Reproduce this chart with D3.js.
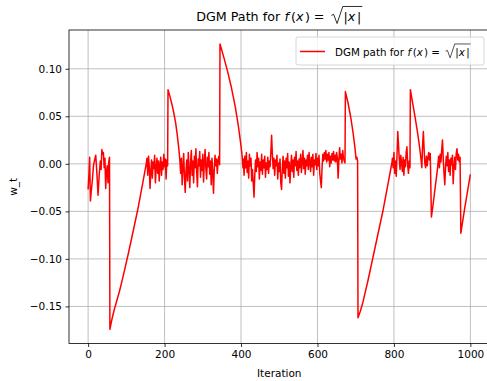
<!DOCTYPE html>
<html><head><meta charset="utf-8">
<script src="https://cdn.jsdelivr.net/npm/d3@7"></script>
<style>body{margin:0;background:#fff}svg{display:block}text{font-family:"DejaVu Sans",sans-serif;fill:#000}</style>
</head><body><svg id="c" width="487" height="381"></svg>
<script>
// ---- data: [iteration, w_t] pairs ----
const segStartNoise = [[0,-0.027],[2,-0.012],[4,0.007],[6,-0.039],[8,-0.030],[11,-0.018],[14,-0.002],[17,0.004],[20,0.009],[23,-0.010],[26,-0.033],[29,-0.012],[32,0.003],[34,-0.006],[36,0.015],[38,0.010],[40,0.012],[42,-0.004],[44,0.006],[46,-0.026],[48,-0.008],[50,-0.002],[52,-0.020],[54,0.002],[56,0.007]];
const segRecover1 = [[57,-0.174],[62,-0.164],[68,-0.154],[75,-0.144],[82,-0.134],[90,-0.121],[98,-0.107],[106,-0.093],[114,-0.078],[122,-0.063],[130,-0.048],[137,-0.033],[143,-0.020],[148,-0.009],[152,0.000]];
const segNoise2 = [[154,0.006],[156,-0.012],[158,0.008],[160,-0.003],[162,-0.026],[164,-0.008],[166,0.004],[168,-0.015],[170,0.002],[172,-0.005],[174,0.009],[176,-0.020],[178,-0.004],[180,0.006],[182,-0.010],[184,0.003],[186,-0.018],[188,-0.001],[190,0.007],[192,-0.012],[194,0.002],[196,-0.006],[198,0.010],[200,-0.003],[202,0.005],[204,-0.016],[206,0.004],[208,-0.002]];
const segDecay1 = [[209,0.078],[214,0.071],[219,0.063],[224,0.054],[229,0.043],[233,0.031],[237,0.017],[240,0.004]];
const segNoise3 = [[242,-0.010],[244,0.006],[246,-0.022],[248,-0.004],[250,0.011],[252,-0.015],[254,-0.030],[256,-0.008],[258,0.004],[260,-0.018],[262,0.012],[264,-0.006],[266,-0.025],[268,0.002],[270,0.014],[272,-0.012],[274,0.003],[276,-0.020],[278,0.008],[280,-0.004],[282,0.016],[284,-0.009],[286,-0.024],[288,0.005],[290,-0.002],[292,0.013],[294,-0.014],[296,0.004],[298,-0.007],[300,0.010],[302,-0.019],[304,0.002],[306,0.015],[308,-0.005],[310,-0.016],[312,0.007],[314,-0.003],[316,0.012],[318,-0.011],[320,0.003],[322,-0.022],[324,0.006],[326,-0.008],[328,-0.031],[330,-0.006],[332,0.009],[334,-0.002],[336,0.005],[338,-0.010],[340,0.003],[342,0.008],[344,-0.001]];
const segDecay2 = [[345,0.126],[355,0.112],[365,0.097],[375,0.080],[385,0.060],[393,0.040],[399,0.022],[403,0.008],[405,-0.004]];
const segNoise4 = [[406,0.005],[408,-0.012],[410,0.008],[412,-0.004],[414,0.012],[416,-0.009],[418,0.003],[420,-0.015],[422,0.010],[424,-0.002],[426,0.006],[428,-0.018],[430,-0.006],[432,-0.020],[434,-0.035],[436,-0.012],[438,0.004],[440,-0.008],[442,0.012],[444,-0.003],[446,0.006],[448,-0.016],[450,0.002],[452,-0.007],[454,0.010],[456,-0.011],[458,0.004],[460,-0.004],[462,0.008],[464,-0.014],[466,0.001],[468,-0.006],[470,0.007],[472,-0.010],[474,0.003],[476,-0.003],[478,0.012],[480,0.030],[482,0.010],[484,-0.005],[486,0.006],[488,-0.012],[490,0.004],[492,-0.002],[494,0.009],[496,-0.016],[498,0.001],[500,-0.008],[502,0.005],[504,-0.020],[506,-0.027],[508,-0.006],[510,0.008],[512,-0.010],[514,0.003],[516,-0.015],[518,0.006],[520,-0.004],[522,0.011],[524,-0.013],[526,0.002],[528,-0.020],[530,-0.003],[532,0.009],[534,-0.008],[536,0.004],[538,-0.014],[540,0.007],[542,-0.002],[544,0.013],[546,-0.007],[548,0.003],[550,-0.012],[552,0.005],[554,-0.004],[556,0.010],[558,-0.009],[560,0.002],[562,0.014],[564,-0.005],[566,0.006],[568,-0.011],[570,0.004],[572,-0.002],[574,0.009],[576,-0.006],[578,0.012],[580,0.001],[582,-0.008],[584,0.007],[586,-0.003],[588,0.010],[590,-0.012],[592,0.004],[594,-0.001],[596,0.011],[598,-0.006],[600,0.006],[602,-0.002],[604,0.009],[606,-0.010],[608,-0.018],[610,-0.025],[612,-0.004],[614,0.010],[616,0.003],[618,0.012],[620,0.005],[622,0.014],[624,0.002],[626,0.010],[628,0.004],[630,0.012],[632,-0.003],[634,0.008],[636,0.001],[638,0.011],[640,0.004],[642,0.013],[644,0.003],[646,0.009],[648,0.002],[650,0.012],[652,0.006],[654,-0.015],[656,0.004],[658,0.017],[660,0.005],[662,0.010],[664,0.001],[666,0.014],[668,0.006],[670,0.003],[672,0.001]];
const segDecay3 = [[673,0.076],[680,0.064],[687,0.049],[693,0.033],[698,0.017],[701,0.005],[703,0.007],[705,0.003]];
const segRecover2 = [[706,-0.162],[712,-0.155],[718,-0.147],[725,-0.135],[732,-0.123],[740,-0.108],[748,-0.093],[756,-0.078],[764,-0.063],[772,-0.048],[779,-0.033],[786,-0.018],[791,-0.007],[795,0.002]];
const segNoise5 = [[796,0.006],[798,-0.004],[800,0.012],[802,-0.010],[804,0.003],[806,-0.013],[808,0.008],[810,0.034],[812,0.020],[814,0.005],[816,-0.006],[818,0.009],[820,0.001],[822,-0.008],[824,0.007],[826,-0.012],[828,0.004],[830,-0.003],[832,0.012],[834,0.018],[836,-0.002],[838,-0.010],[840,0.003],[842,-0.004]];
const segDecay4 = [[843,0.078],[849,0.064],[855,0.050],[861,0.035],[866,0.021],[870,0.008],[873,-0.004],[875,0.020],[877,0.034],[879,0.015],[881,0.000],[883,-0.004],[885,0.008],[887,-0.002],[889,0.006],[891,0.012],[893,0.004],[895,0.011]];
const segDip1 = [[898,-0.056],[902,-0.044],[906,-0.031],[910,-0.018],[914,-0.005],[917,0.008]];
const segNoise6 = [[919,-0.004],[921,0.010],[923,0.002],[925,0.015],[927,0.025],[929,0.006],[931,-0.010],[933,-0.022],[935,-0.004],[937,0.008],[939,-0.002],[941,0.012],[943,-0.008],[945,0.004],[947,-0.012],[949,0.006],[951,-0.001],[953,0.009],[955,-0.021],[957,-0.003],[959,0.007],[961,-0.006],[963,0.011],[965,0.016],[967,0.004],[969,0.010],[971,0.002],[973,0.007]];
const segDip2 = [[975,-0.073],[980,-0.060],[985,-0.047],[990,-0.035],[995,-0.023],[1000,-0.011]];

const xTicks = [0,200,400,600,800,1000];
const yTicks = [0.10,0.05,0.00,-0.05,-0.10,-0.15];
const xDomain = [-50,1050];
const yDomain = [-0.189,0.1408];
const titleText = "DGM Path for";
const legendText = "DGM path for";
const xLabel = "Iteration";
const yLabel = "w_t";

const pathData = [].concat(segStartNoise, segRecover1, segNoise2, segDecay1, segNoise3, segDecay2,
  segNoise4, segDecay3, segRecover2, segNoise5, segDecay4, segDip1, segNoise6, segDip2);

// ---- layout ----
const L = 69, R = 489.5, T = 30, B = 343.5;
const svg = d3.select("#c");
const x = d3.scaleLinear().domain(xDomain).range([L, R]);
const y = d3.scaleLinear().domain(yDomain).range([B, T]);

// grid
const grid = svg.append("g");
grid.selectAll(".gx").data(xTicks).enter().append("line")
  .attr("x1", d => x(d)).attr("x2", d => x(d)).attr("y1", T).attr("y2", B)
  .attr("stroke", "#b0b0b0").attr("stroke-width", 0.8);
grid.selectAll(".gy").data(yTicks).enter().append("line")
  .attr("x1", L).attr("x2", R).attr("y1", d => y(d)).attr("y2", d => y(d))
  .attr("stroke", "#b0b0b0").attr("stroke-width", 0.8);

// line
svg.append("defs").append("clipPath").attr("id", "clip").append("rect")
  .attr("x", L).attr("y", T).attr("width", R - L).attr("height", B - T);
svg.append("path").datum(pathData)
  .attr("clip-path", "url(#clip)")
  .attr("fill", "none").attr("stroke", "#ff0000").attr("stroke-width", 1.5)
  .attr("stroke-linejoin", "round")
  .attr("d", d3.line().x(d => x(d[0])).y(d => y(d[1])));

// axes
const fs = 10.5;
const xa = svg.append("g").attr("transform", `translate(0,${B})`)
  .call(d3.axisBottom(x).tickValues(xTicks).tickSize(3.5).tickPadding(3.5).tickFormat(d3.format("d")));
const ya = svg.append("g").attr("transform", `translate(${L},0)`)
  .call(d3.axisLeft(y).tickValues(yTicks).tickSize(3.5).tickPadding(3.5).tickFormat(d3.format(".2f")));
[xa, ya].forEach(a => {
  a.select(".domain").remove();
  a.selectAll(".tick line").attr("stroke", "#000").attr("stroke-width", 0.8);
  a.selectAll(".tick text").style("font-size", fs + "px").style("font-family", '"DejaVu Sans",sans-serif').attr("fill", "#000");
});

// spines
svg.append("rect").attr("x", L).attr("y", T).attr("width", R - L).attr("height", B - T)
  .attr("fill", "none").attr("stroke", "#000").attr("stroke-width", 0.8);

// axis labels
svg.append("text").attr("x", (L + R) / 2).attr("y", 377).attr("text-anchor", "middle")
  .style("font-size", fs + "px").text(xLabel);
svg.append("text").attr("transform", `translate(16.5,${(T + B) / 2}) rotate(-90)`).attr("text-anchor", "middle")
  .style("font-size", fs + "px").text(yLabel);

// mathtext-like label: lead + " f(x) = sqrt(|x|)"
function mathLabel(parent, lead, size, x0, yBase, anchor) {
  const g = parent.append("g");
  const pieces = [{t: lead}, {gap: 0.34}, {t: "f", i: 1}, {gap: 0.16}, {t: "("}, {t: "x", i: 1}, {gap: 0.12}, {t: ")"},
    {gap: 0.3}, {t: "="}, {gap: 0.45}, {rad: 1}, {t: "|"}, {t: "x", i: 1}, {gap: 0.14}, {t: "|"}];
  let cx = 0, radStart = 0, radContent = 0;
  pieces.forEach(p => {
    if (p.gap) { cx += p.gap * size; return; }
    if (p.rad) { radStart = cx; cx += 1.05 * size; radContent = cx; return; }
    const t = g.append("text").attr("x", cx).attr("y", 0).style("font-size", size + "px")
      .style("white-space", "pre").style("font-style", p.i ? "italic" : "normal").text(p.t);
    cx += t.node().getComputedTextLength();
  });
  const s = size, r = radStart;
  g.append("path").attr("fill", "none").attr("stroke", "#000").attr("stroke-width", 0.065 * s)
    .attr("stroke-linejoin", "miter")
    .attr("d", `M${r + 0.1 * s},${-0.42 * s} L${r + 0.28 * s},${-0.5 * s} L${r + 0.55 * s},${0.22 * s} L${radContent - 0.05 * s},${-1.12 * s} L${cx + 0.08 * s},${-1.12 * s}`);
  const w = cx + 0.08 * s;
  const ox = anchor === "middle" ? x0 - w / 2 : x0;
  g.attr("transform", `translate(${ox},${yBase})`);
  return w;
}

// title
mathLabel(svg, titleText, 12.7, (L + R) / 2, 20.7, "middle");

// legend
const lg = svg.append("g");
lg.append("rect").attr("x", 296).attr("y", 37).attr("width", 188).attr("height", 28).attr("rx", 2)
  .attr("fill", "#fff").attr("fill-opacity", 0.8).attr("stroke", "#cccccc").attr("stroke-width", 0.8);
lg.append("line").attr("x1", 300).attr("x2", 325).attr("y1", 51.5).attr("y2", 51.5)
  .attr("stroke", "#ff0000").attr("stroke-width", 1.5);
mathLabel(lg, legendText, 10.3, 335, 55.5, "start");
</script></body></html>
